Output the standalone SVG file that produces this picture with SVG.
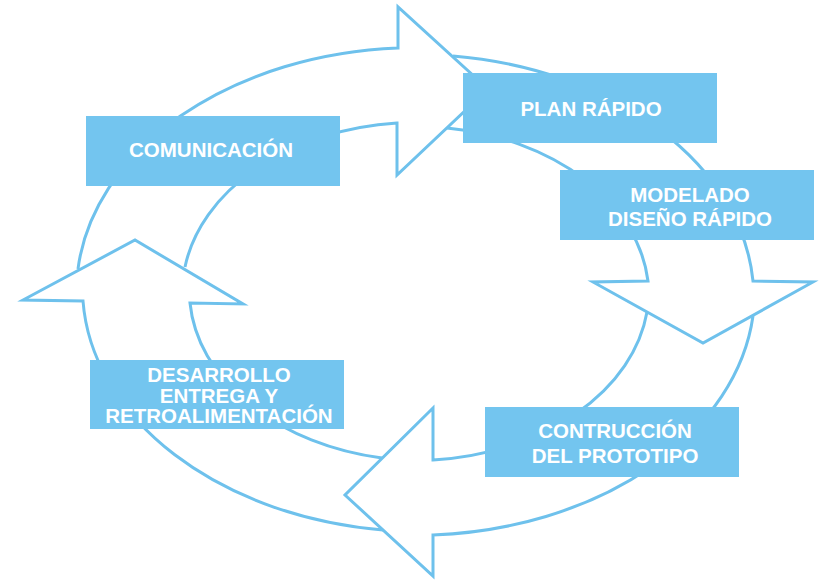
<svg xmlns="http://www.w3.org/2000/svg" width="830" height="587" viewBox="0 0 830 587">
  <style>
    .seg { fill: none; stroke: #6EC1EC; stroke-width: 3; stroke-linejoin: miter; }
    .box { fill: #73C5EF; }
    .lbl { fill: #ffffff; font-family: "Liberation Sans", Arial, sans-serif; font-weight: bold; font-size: 20.5px; text-anchor: middle; }
  </style>
  <rect width="830" height="587" fill="#ffffff"/>
  <g id="connectors">
    <path class="seg" d="M 78 269 A 340 244 0 0 1 398 48 L 398 7 L 488 89 L 397 175 L 397 123 A 235 170 0 0 0 185 267"/>
    <path class="seg" d="M 453 56 A 340 244 0 0 1 753 281 L 813 282 L 703 343 L 593 282 L 648 281 A 235 170 0 0 0 447 128"/>
    <path class="seg" d="M 753 316 A 340 244 0 0 1 433 535 L 433 576 L 345 495 L 433 408 L 433 460 A 235 170 0 0 0 647 312"/>
    <path class="seg" d="M 383 530 A 340 244 0 0 1 83 301 L 23 300 L 135 240 L 243 304 L 190 303 A 235 170 0 0 0 382 458"/>
  </g>
  <g id="comunicacion">
    <rect class="box" x="86" y="116" width="254" height="70"/>
    <text class="lbl" x="211" y="157">COMUNICACIÓN</text>
  </g>
  <g id="plan-rapido">
    <rect class="box" x="463" y="73" width="254" height="70"/>
    <text class="lbl" x="591" y="116">PLAN RÁPIDO</text>
  </g>
  <g id="modelado">
    <rect class="box" x="560" y="170" width="254" height="70"/>
    <text class="lbl" x="690" y="202">MODELADO</text>
    <text class="lbl" x="690" y="226">DISEÑO RÁPIDO</text>
  </g>
  <g id="construccion">
    <rect class="box" x="485" y="407" width="254" height="70"/>
    <text class="lbl" x="615" y="438">CONTRUCCIÓN</text>
    <text class="lbl" x="615" y="463">DEL PROTOTIPO</text>
  </g>
  <g id="desarrollo">
    <rect class="box" x="90" y="360" width="254" height="69"/>
    <text class="lbl" x="219" y="382">DESARROLLO</text>
    <text class="lbl" x="219" y="403">ENTREGA Y</text>
    <text class="lbl" x="219" y="423">RETROALIMENTACIÓN</text>
  </g>
</svg>
